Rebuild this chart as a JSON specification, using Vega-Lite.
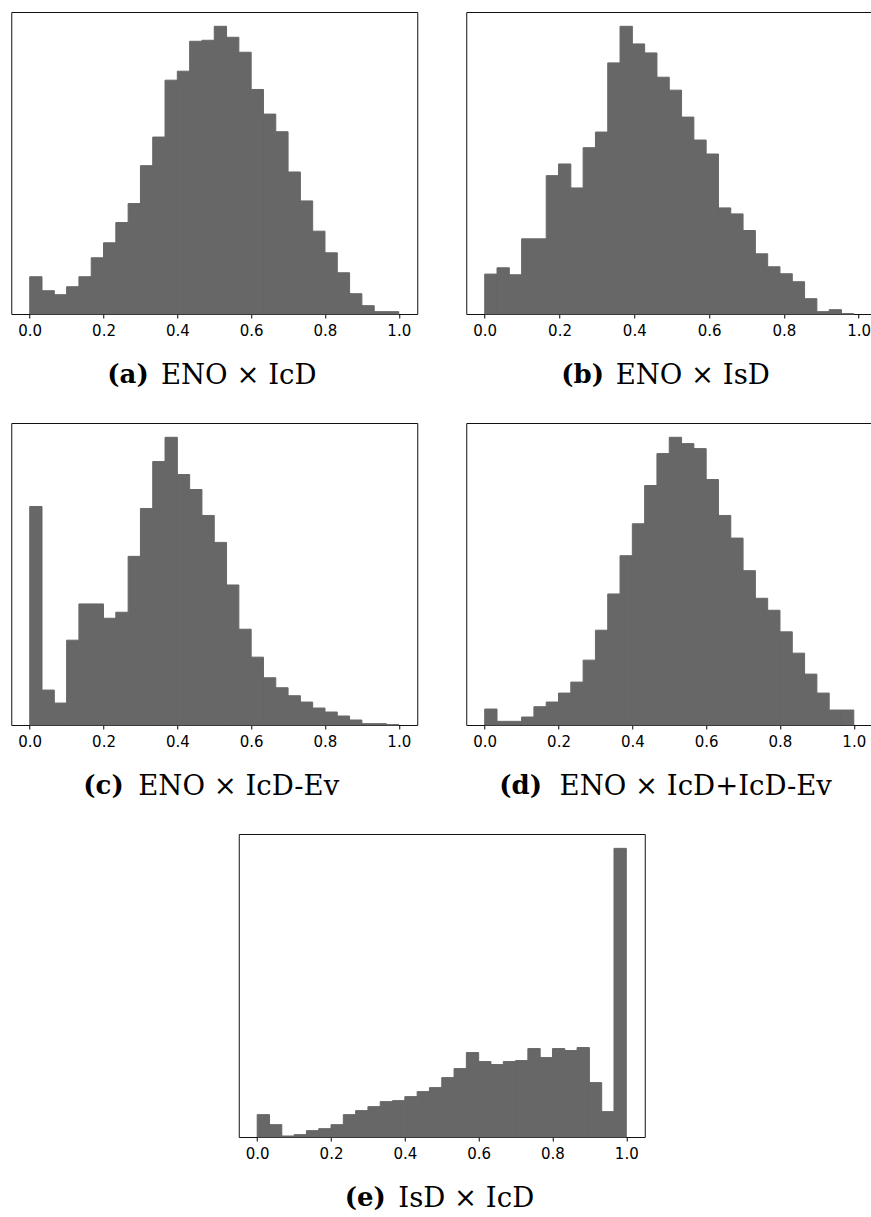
{
"$schema":"https://vega.github.io/schema/vega-lite/v6.json",
"padding":{"left":10,"top":11,"right":0,"bottom":0},
"background":"white",
"config":{
 "view":{"stroke":"#111111","strokeWidth":1},
 "title":{"orient":"bottom","anchor":"start","frame":"group","baseline":"alphabetic","font":"DejaVu Serif","fontSize":26,"fontWeight":"bold","color":"black","offset":-27},
 "axisX":{"titleFont":"DejaVu Serif","titleFontSize":27.5,"titleFontWeight":"normal","titleColor":"black","titleY":69,"titleBaseline":"alphabetic","titleAlign":"center","labelFont":"DejaVu Sans","labelFontSize":15,"labelColor":"black","tickColor":"black","tickSize":4,"labelPadding":5,"domain":false,"grid":false},
 "bar":{"color":"#676767","stroke":"#676767","strokeWidth":1}
},
"datasets":{
"a":[{"lo":0,"hi":0.03333,"n":112},{"lo":0.03333,"hi":0.06667,"n":70},{"lo":0.06667,"hi":0.1,"n":58},{"lo":0.1,"hi":0.13333,"n":82},{"lo":0.13333,"hi":0.16667,"n":112},{"lo":0.16667,"hi":0.2,"n":169},{"lo":0.2,"hi":0.23333,"n":214},{"lo":0.23333,"hi":0.26667,"n":275},{"lo":0.26667,"hi":0.3,"n":332},{"lo":0.3,"hi":0.33333,"n":446},{"lo":0.33333,"hi":0.36667,"n":532},{"lo":0.36667,"hi":0.4,"n":703},{"lo":0.4,"hi":0.43333,"n":730},{"lo":0.43333,"hi":0.46667,"n":820},{"lo":0.46667,"hi":0.5,"n":823},{"lo":0.5,"hi":0.53333,"n":865},{"lo":0.53333,"hi":0.56667,"n":832},{"lo":0.56667,"hi":0.6,"n":787},{"lo":0.6,"hi":0.63333,"n":675},{"lo":0.63333,"hi":0.66667,"n":601},{"lo":0.66667,"hi":0.7,"n":548},{"lo":0.7,"hi":0.73333,"n":427},{"lo":0.73333,"hi":0.76667,"n":340},{"lo":0.76667,"hi":0.8,"n":249},{"lo":0.8,"hi":0.83333,"n":184},{"lo":0.83333,"hi":0.86667,"n":124},{"lo":0.86667,"hi":0.9,"n":61},{"lo":0.9,"hi":0.93333,"n":25},{"lo":0.93333,"hi":0.96667,"n":7},{"lo":0.96667,"hi":1,"n":7}],
"b":[{"lo":0,"hi":0.0329,"n":120},{"lo":0.0329,"hi":0.0658,"n":139},{"lo":0.0658,"hi":0.0987,"n":118},{"lo":0.0987,"hi":0.1316,"n":226},{"lo":0.1316,"hi":0.1645,"n":226},{"lo":0.1645,"hi":0.1974,"n":416},{"lo":0.1974,"hi":0.2303,"n":451},{"lo":0.2303,"hi":0.2632,"n":379},{"lo":0.2632,"hi":0.2961,"n":500},{"lo":0.2961,"hi":0.329,"n":547},{"lo":0.329,"hi":0.3619,"n":755},{"lo":0.3619,"hi":0.3948,"n":865},{"lo":0.3948,"hi":0.4277,"n":812},{"lo":0.4277,"hi":0.4606,"n":785},{"lo":0.4606,"hi":0.4935,"n":712},{"lo":0.4935,"hi":0.5264,"n":673},{"lo":0.5264,"hi":0.5593,"n":592},{"lo":0.5593,"hi":0.5922,"n":523},{"lo":0.5922,"hi":0.6251,"n":481},{"lo":0.6251,"hi":0.658,"n":319},{"lo":0.658,"hi":0.6909,"n":301},{"lo":0.6909,"hi":0.7238,"n":251},{"lo":0.7238,"hi":0.7567,"n":181},{"lo":0.7567,"hi":0.7896,"n":142},{"lo":0.7896,"hi":0.8225,"n":121},{"lo":0.8225,"hi":0.8554,"n":97},{"lo":0.8554,"hi":0.8883,"n":46},{"lo":0.8883,"hi":0.9212,"n":7},{"lo":0.9212,"hi":0.9541,"n":13},{"lo":0.9541,"hi":0.987,"n":1}],
"c":[{"lo":0,"hi":0.03333,"n":657},{"lo":0.03333,"hi":0.06667,"n":105},{"lo":0.06667,"hi":0.1,"n":66},{"lo":0.1,"hi":0.13333,"n":255},{"lo":0.13333,"hi":0.16667,"n":364},{"lo":0.16667,"hi":0.2,"n":364},{"lo":0.2,"hi":0.23333,"n":321},{"lo":0.23333,"hi":0.26667,"n":339},{"lo":0.26667,"hi":0.3,"n":507},{"lo":0.3,"hi":0.33333,"n":651},{"lo":0.33333,"hi":0.36667,"n":792},{"lo":0.36667,"hi":0.4,"n":865},{"lo":0.4,"hi":0.43333,"n":753},{"lo":0.43333,"hi":0.46667,"n":708},{"lo":0.46667,"hi":0.5,"n":630},{"lo":0.5,"hi":0.53333,"n":549},{"lo":0.53333,"hi":0.56667,"n":421},{"lo":0.56667,"hi":0.6,"n":288},{"lo":0.6,"hi":0.63333,"n":204},{"lo":0.63333,"hi":0.66667,"n":142},{"lo":0.66667,"hi":0.7,"n":112},{"lo":0.7,"hi":0.73333,"n":88},{"lo":0.73333,"hi":0.76667,"n":69},{"lo":0.76667,"hi":0.8,"n":51},{"lo":0.8,"hi":0.83333,"n":39},{"lo":0.83333,"hi":0.86667,"n":27},{"lo":0.86667,"hi":0.9,"n":15},{"lo":0.9,"hi":0.93333,"n":4},{"lo":0.93333,"hi":0.96667,"n":4},{"lo":0.96667,"hi":1,"n":1}],
"d":[{"lo":0,"hi":0.03333,"n":48},{"lo":0.03333,"hi":0.06667,"n":11},{"lo":0.06667,"hi":0.1,"n":11},{"lo":0.1,"hi":0.13333,"n":24},{"lo":0.13333,"hi":0.16667,"n":55},{"lo":0.16667,"hi":0.2,"n":69},{"lo":0.2,"hi":0.23333,"n":96},{"lo":0.23333,"hi":0.26667,"n":129},{"lo":0.26667,"hi":0.3,"n":195},{"lo":0.3,"hi":0.33333,"n":285},{"lo":0.33333,"hi":0.36667,"n":394},{"lo":0.36667,"hi":0.4,"n":509},{"lo":0.4,"hi":0.43333,"n":605},{"lo":0.43333,"hi":0.46667,"n":720},{"lo":0.46667,"hi":0.5,"n":816},{"lo":0.5,"hi":0.53333,"n":865},{"lo":0.53333,"hi":0.56667,"n":846},{"lo":0.56667,"hi":0.6,"n":831},{"lo":0.6,"hi":0.63333,"n":738},{"lo":0.63333,"hi":0.66667,"n":630},{"lo":0.66667,"hi":0.7,"n":562},{"lo":0.7,"hi":0.73333,"n":464},{"lo":0.73333,"hi":0.76667,"n":381},{"lo":0.76667,"hi":0.8,"n":345},{"lo":0.8,"hi":0.83333,"n":280},{"lo":0.83333,"hi":0.86667,"n":216},{"lo":0.86667,"hi":0.9,"n":153},{"lo":0.9,"hi":0.93333,"n":96},{"lo":0.93333,"hi":0.96667,"n":45},{"lo":0.96667,"hi":1,"n":45}],
"e":[{"lo":0,"hi":0.03333,"n":67},{"lo":0.03333,"hi":0.06667,"n":37},{"lo":0.06667,"hi":0.1,"n":3},{"lo":0.1,"hi":0.13333,"n":7},{"lo":0.13333,"hi":0.16667,"n":19},{"lo":0.16667,"hi":0.2,"n":25},{"lo":0.2,"hi":0.23333,"n":37},{"lo":0.23333,"hi":0.26667,"n":67},{"lo":0.26667,"hi":0.3,"n":79},{"lo":0.3,"hi":0.33333,"n":91},{"lo":0.33333,"hi":0.36667,"n":106},{"lo":0.36667,"hi":0.4,"n":109},{"lo":0.4,"hi":0.43333,"n":121},{"lo":0.43333,"hi":0.46667,"n":136},{"lo":0.46667,"hi":0.5,"n":148},{"lo":0.5,"hi":0.53333,"n":178},{"lo":0.53333,"hi":0.56667,"n":205},{"lo":0.56667,"hi":0.6,"n":253},{"lo":0.6,"hi":0.63333,"n":226},{"lo":0.63333,"hi":0.66667,"n":217},{"lo":0.66667,"hi":0.7,"n":226},{"lo":0.7,"hi":0.73333,"n":229},{"lo":0.73333,"hi":0.76667,"n":265},{"lo":0.76667,"hi":0.8,"n":238},{"lo":0.8,"hi":0.83333,"n":265},{"lo":0.83333,"hi":0.86667,"n":259},{"lo":0.86667,"hi":0.9,"n":268},{"lo":0.9,"hi":0.93333,"n":163},{"lo":0.93333,"hi":0.96667,"n":76},{"lo":0.96667,"hi":1,"n":865}]
},
"vconcat":[
 {"hconcat":[
  {"width":406,"height":302,"data":{"name":"a"},"title":{"text":"(a)","dx":96},"mark":"bar",
   "encoding":{"x":{"field":"lo","type":"quantitative","scale":{"domain":[-0.05,1.05],"nice":false,"zero":false},"axis":{"title":"ENO × IcD","titleX":227,"values":[0,0.2,0.4,0.6,0.8,1],"format":".1f"}},"x2":{"field":"hi"},"y":{"field":"n","type":"quantitative","scale":{"domain":[0,908],"nice":false},"axis":null},"y2":{"datum":0}}},
  {"width":406,"height":302,"data":{"name":"b"},"title":{"text":"(b)","dx":95},"mark":"bar",
   "encoding":{"x":{"field":"lo","type":"quantitative","scale":{"domain":[-0.0494,1.0364],"nice":false,"zero":false},"axis":{"title":"ENO × IsD","titleX":226,"values":[0,0.2,0.4,0.6,0.8,1],"format":".1f"}},"x2":{"field":"hi"},"y":{"field":"n","type":"quantitative","scale":{"domain":[0,908],"nice":false},"axis":null},"y2":{"datum":0}}}
 ],"spacing":47,"resolve":{"scale":{"x":"independent","y":"independent"}}},
 {"hconcat":[
  {"width":406,"height":302,"data":{"name":"c"},"title":{"text":"(c)","dx":72},"mark":"bar",
   "encoding":{"x":{"field":"lo","type":"quantitative","scale":{"domain":[-0.05,1.05],"nice":false,"zero":false},"axis":{"title":"ENO × IcD-Ev","titleX":227,"values":[0,0.2,0.4,0.6,0.8,1],"format":".1f"}},"x2":{"field":"hi"},"y":{"field":"n","type":"quantitative","scale":{"domain":[0,908],"nice":false},"axis":null},"y2":{"datum":0}}},
  {"width":406,"height":302,"data":{"name":"d"},"title":{"text":"(d)","dx":33},"mark":"bar",
   "encoding":{"x":{"field":"lo","type":"quantitative","scale":{"domain":[-0.05,1.05],"nice":false,"zero":false},"axis":{"title":"ENO × IcD+IcD-Ev","titleX":229,"values":[0,0.2,0.4,0.6,0.8,1],"format":".1f"}},"x2":{"field":"hi"},"y":{"field":"n","type":"quantitative","scale":{"domain":[0,908],"nice":false},"axis":null},"y2":{"datum":0}}}
 ],"spacing":47,"resolve":{"scale":{"x":"independent","y":"independent"}}},
 {"width":406,"height":303,"data":{"name":"e"},"title":{"text":"(e)","dx":106},"mark":"bar",
  "encoding":{"x":{"field":"lo","type":"quantitative","scale":{"domain":[-0.05,1.05],"nice":false,"zero":false},"axis":{"title":"IsD × IcD","titleX":227,"values":[0,0.2,0.4,0.6,0.8,1],"format":".1f"}},"x2":{"field":"hi"},"y":{"field":"n","type":"quantitative","scale":{"domain":[0,908],"nice":false},"axis":null},"y2":{"datum":0}}}
],
"spacing":33,"center":true,
"resolve":{"scale":{"x":"independent","y":"independent"}}
}
